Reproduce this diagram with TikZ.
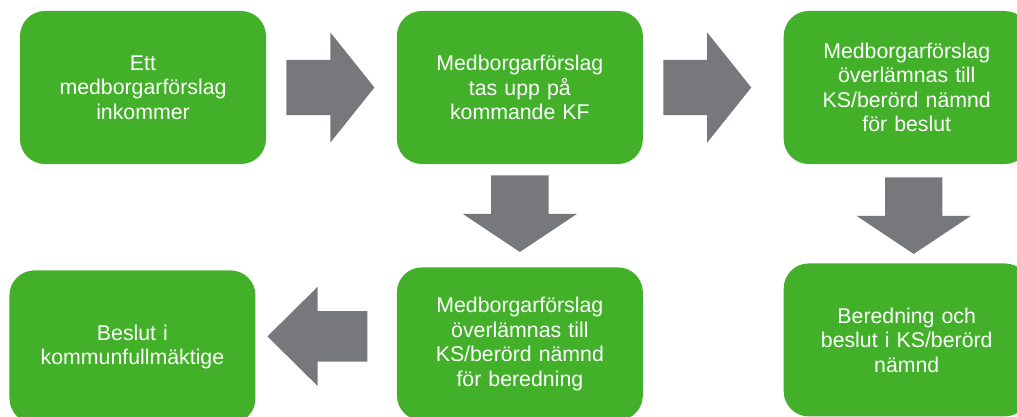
\documentclass[tikz,border=0pt]{standalone}
\usepackage{fontspec}
\setmainfont{Liberation Sans}
\usetikzlibrary{positioning,shapes.arrows}
\definecolor{steggron}{RGB}{67,176,42}
\definecolor{pilgra}{RGB}{118,120,123}

\begin{document}
\begin{tikzpicture}[x=1pt,y=-1pt,
    steg/.style={rectangle,rounded corners=25pt,fill=steggron,text=white,
                 minimum width=246pt,minimum height=153pt,inner sep=0pt,
                 text width=230pt,align=center,
                 font=\fontsize{21.3}{24.5}\selectfont},
    pil/.style={single arrow,fill=pilgra,draw=none,single arrow head indent=0pt},
    pilhoger/.style={pil,inner sep=27.5pt,single arrow head extend=27.5pt,
                     single arrow tip angle=102.7,minimum height=88pt},
    pilned/.style={pil,shape border rotate=270,inner sep=28.5pt,
                   single arrow head extend=28.5pt,
                   single arrow tip angle=112.6,minimum height=76pt},
    pilvanster/.style={pil,shape border rotate=180,inner sep=25pt,
                       single arrow head extend=24.5pt,
                       single arrow tip angle=89.4,minimum height=100pt}]
  \useasboundingbox (0,0) rectangle (1017,417);
  \clip (0,0) rectangle (1017,417);

  % upper row
  \node[steg] (inkom) at (143,87.5) {Ett\\medborgarförslag\\inkommer};
  \node[pilhoger,right=20pt of inkom] (pil1) {};
  \node[steg,right=22pt of pil1] (tasupp) {Medborgarförslag\\tas upp på\\kommande KF};
  \node[pilhoger,right=20pt of tasupp] (pil2) {};
  \node[steg,right=32pt of pil2] (forbeslut)
    {Medborgarförslag\\överlämnas till\\KS/berörd nämnd\\för beslut};

  % lower row
  \node[steg,below=103pt of tasupp] (forberedning)
    {Medborgarförslag\\överlämnas till\\KS/berörd nämnd\\för beredning};
  \node[steg,below=99pt of forbeslut] (beredning)
    {Beredning och\\beslut i KS/berörd\\nämnd};
  \node[steg,left=141pt of forberedning,yshift=-3pt] (kf)
    {Beslut i\\kommunfullmäktige};

  % arrows between the steps
  \node[pilned,below=11pt of tasupp] (pil3) {};
  \node[pilned,below=13pt of forbeslut,xshift=7pt] (pil4) {};
  \node[pilvanster,left=29pt of forberedning,yshift=7.5pt] (pil5) {};
\end{tikzpicture}
\end{document}
